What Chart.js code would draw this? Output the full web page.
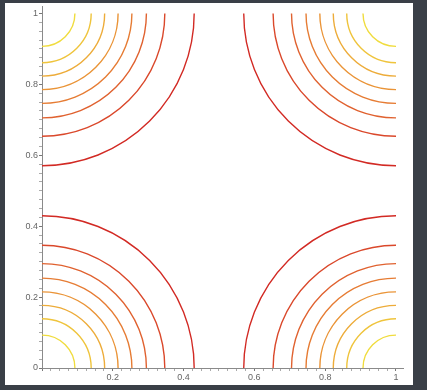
<!DOCTYPE html>
<html>
<head>
<meta charset="utf-8">
<script src="https://cdn.jsdelivr.net/npm/chart.js@4/dist/chart.umd.min.js"></script>
<style>
  html, body { margin: 0; padding: 0; background: #3a3f47; }
  #wrap { width: 427px; height: 390px; position: relative; }
</style>
</head>
<body>
<div id="wrap"><canvas id="contour"></canvas></div>
<script>
// contour radii (distance from each corner), inner -> outer
const levelRadii = [0.093, 0.139, 0.177, 0.215, 0.254, 0.295, 0.347, 0.43];
const levelColors = ['#f0dc3e', '#efc43c', '#edac3a', '#ea9437', '#e67c34', '#e06230', '#da482b', '#d22a24'];
// the four corners the rings sit on
const centresX = [0, 1, 0, 1];
const centresY = [0, 0, 1, 1];
const tickValues = [0, 0.2, 0.4, 0.6, 0.8, 1];
const tickLabels = ['0', '0.2', '0.4', '0.6', '0.8', '1'];

// minor ticks every 0.025
const allTicks = [];
for (let i = 0; i <= 40; i++) allTicks.push(+(i * 0.025).toFixed(3));

function labelFor(v, skipZero) {
  const k = tickValues.findIndex(t => Math.abs(t - v) < 1e-6);
  if (k < 0) return '';
  if (skipZero && k === 0) return '';
  return tickLabels[k];
}

const panel = {
  id: 'panel',
  beforeDraw(chart) {
    const c = chart.ctx;
    c.save();
    c.fillStyle = '#3a3f47';
    c.fillRect(0, 0, chart.width, chart.height);
    c.fillStyle = '#ffffff';
    c.fillRect(5, 3, 408, 382);
    c.restore();
  }
};

const datasets = levelRadii.map((r, i) => ({
  data: centresX.map((x, j) => ({ x: x, y: centresY[j], r: 1 })),
  borderColor: levelColors[i],
  backgroundColor: 'rgba(0,0,0,0)',
  borderWidth: 1.4,
  hitRadius: 0,
  clip: { left: 0, top: -7, right: -7, bottom: 0 }
}));

const chart = new Chart(document.getElementById('contour'), {
  type: 'bubble',
  data: { datasets: datasets },
  options: {
    responsive: true,
    maintainAspectRatio: false,
    animation: false,
    events: [],
    layout: { autoPadding: false, padding: { left: 0, top: 6, right: 24, bottom: 0 } },
    plugins: { legend: { display: false }, tooltip: { enabled: false } },
    scales: {
      x: {
        type: 'linear',
        min: 0,
        max: 1.02,
        afterBuildTicks: s => { s.ticks = allTicks.map(v => ({ value: v })); },
        afterFit: s => { s.height = 22; },
        grid: {
          drawOnChartArea: false,
          tickLength: 3,
          tickColor: c => labelFor(c.tick.value, false) ? '#777' : '#aaa'
        },
        border: { color: '#8a8a8a', width: 1 },
        ticks: {
          autoSkip: false,
          maxRotation: 0,
          padding: 1,
          color: '#666',
          font: { family: 'Liberation Sans', size: 9 },
          callback: v => labelFor(v, true)
        }
      },
      y: {
        type: 'linear',
        min: 0,
        max: 1.02,
        afterBuildTicks: s => { s.ticks = allTicks.map(v => ({ value: v })); },
        afterFit: s => { s.width = 42; },
        grid: {
          drawOnChartArea: false,
          tickLength: 3,
          tickColor: c => labelFor(c.tick.value, false) ? '#777' : '#aaa'
        },
        border: { color: '#8a8a8a', width: 1 },
        ticks: {
          autoSkip: false,
          padding: 1,
          color: '#666',
          font: { family: 'Liberation Sans', size: 9 },
          callback: v => labelFor(v, false)
        }
      }
    }
  },
  plugins: [panel]
});

// bubble radius is in pixels, so turn each contour radius into pixels through the x scale
const sx = chart.scales.x;
chart.data.datasets.forEach((ds, i) => {
  const px = sx.getPixelForValue(levelRadii[i]) - sx.getPixelForValue(0);
  ds.data.forEach(p => { p.r = px; });
});
chart.update('none');
</script>
</body>
</html>
